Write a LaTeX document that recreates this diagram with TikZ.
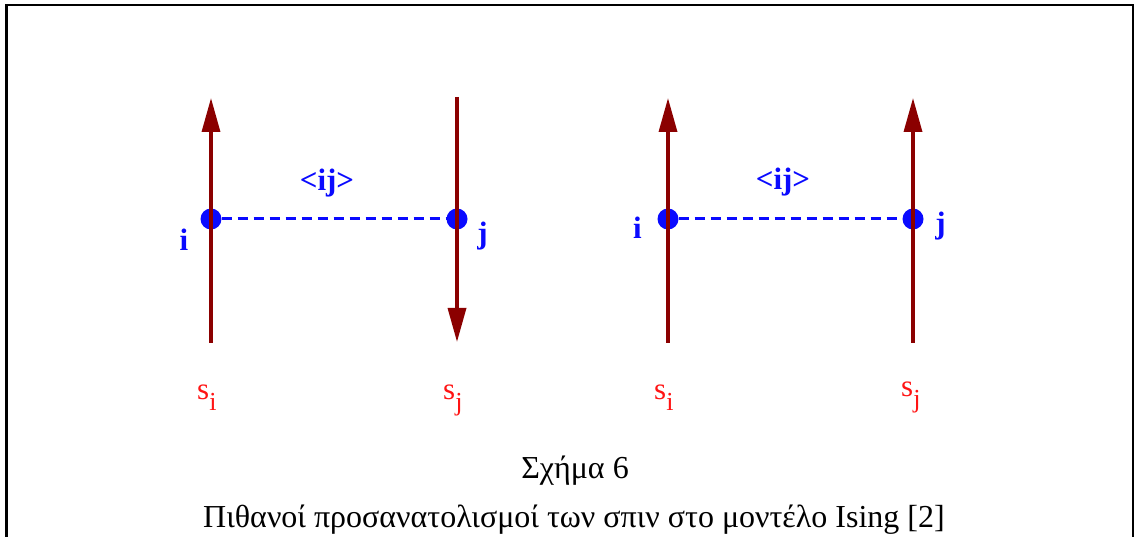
\documentclass[tikz,border=0pt]{standalone}
\usepackage{fontspec}
\setmainfont{Liberation Serif}
\usetikzlibrary{arrows.meta}
\definecolor{spinred}{RGB}{139,0,0}
\definecolor{siteblue}{RGB}{10,10,255}
\definecolor{labred}{RGB}{255,20,20}
\tikzset{
  x=1pt, y=-1pt,
  frameline/.style={line width=2.6pt, black},
  spin/.style={line width=3.4pt, spinred, -{Triangle[length=34pt,width=18pt]}},
  site/.style={circle, fill=siteblue, inner sep=0pt, minimum width=20pt, minimum height=21pt},
  bond/.style={siteblue, line width=3pt, dash pattern=on 10pt off 6pt},
  bondlab/.style={siteblue, font=\fontsize{31}{31}\selectfont\bfseries, anchor=base, inner sep=0pt},
  sitelab/.style={siteblue, font=\fontsize{31}{31}\selectfont\bfseries, anchor=base, inner sep=0pt},
  spinlab/.style={labred, font=\fontsize{31}{31}\selectfont, anchor=base west, inner sep=0pt},
  caption/.style={black, font=\fontsize{32}{32}\selectfont, anchor=base, inner sep=0pt}
}
\newcommand{\spinsub}[1]{\raisebox{-10pt}{\fontsize{26}{26}\selectfont #1}}
\begin{document}
\begin{tikzpicture}
\useasboundingbox (0,0) rectangle (1136,537);
% frame
\coordinate (fbl) at (6.5,540);
\coordinate (ftl) at (6.5,5);
\coordinate (ftr) at (1133,5);
\coordinate (fbr) at (1133,540);
\draw[frameline] (fbl) -- (ftl) -- (ftr) -- (fbr);

% left pair: i up, j down
\node[site] (i1) at (211,219) {};
\node[site] (j1) at (457,219) {};
\draw[bond] (i1) -- (j1);
\coordinate (i1b) at (211,343);
\coordinate (i1t) at (211,98);
\coordinate (j1t) at (457,97);
\coordinate (j1b) at (457,342);
\draw[spin] (i1b) -- (i1t);
\draw[spin] (j1t) -- (j1b);
\node[bondlab] (b1) at (327,191) {<ij>};
\node[sitelab] (li1) at (184,251) {i};
\node[sitelab] (lj1) at (482.5,244) {j};
\node[spinlab] (si1) at (197,400) {s\spinsub{i}};
\node[spinlab] (sj1) at (443,400) {s\spinsub{j}};

% right pair: both up
\node[site] (i2) at (668,219) {};
\node[site] (j2) at (913,219) {};
\draw[bond] (i2) -- (j2);
\coordinate (i2b) at (668,343);
\coordinate (i2t) at (668,98);
\coordinate (j2b) at (913,343);
\coordinate (j2t) at (913,98);
\draw[spin] (i2b) -- (i2t);
\draw[spin] (j2b) -- (j2t);
\node[bondlab] (b2) at (783,190) {<ij>};
\node[sitelab] (li2) at (637.5,239) {i};
\node[sitelab] (lj2) at (940.5,234) {j};
\node[spinlab] (si2) at (654,400) {s\spinsub{i}};
\node[spinlab] (sj2) at (901,397) {s\spinsub{j}};

% caption
\node[caption] (c1) at (575,478) {Σχήμα 6};
\node[caption] (c2) at (574,527) {Πιθανοί προσανατολισμοί των σπιν στο μοντέλο Ising [2]};
\end{tikzpicture}
\end{document}
